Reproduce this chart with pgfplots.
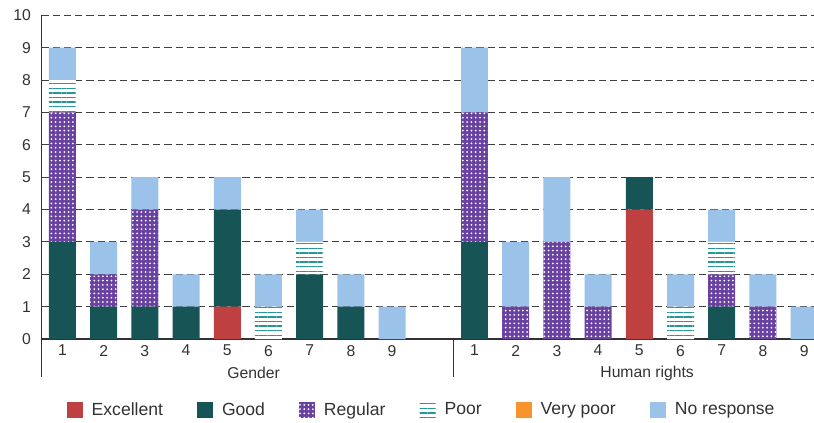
\documentclass[border=0pt]{standalone}
\usepackage{pgfplots}
\pgfplotsset{compat=1.18}
\usepackage{pgfplotstable}
\usepackage{fontspec}
\setmainfont{Liberation Sans}
\usetikzlibrary{patterns.meta}

\definecolor{cExc}{RGB}{190,64,64}
\definecolor{cGood}{RGB}{22,84,86}
\definecolor{cReg}{RGB}{105,65,160}
\definecolor{cPoor}{RGB}{40,150,150}
\definecolor{cVP}{RGB}{247,148,43}
\definecolor{cNR}{RGB}{155,194,232}
\definecolor{cTxt}{RGB}{50,50,50}

\pgfplotstableread{
x exc good reg poor vpoor nr
0 0 3 4 1 0 1
1 0 1 1 0 0 1
2 0 1 3 0 0 1
3 0 1 0 0 0 1
4 1 3 0 0 0 1
5 0 0 0 1 0 1
6 0 2 0 1 0 1
7 0 1 0 0 0 1
8 0 0 0 0 0 1
10 0 3 4 0 0 2
11 0 0 1 0 0 2
12 0 0 3 0 0 2
13 0 0 1 0 0 1
14 4 1 0 0 0 0
15 0 0 0 1 0 1
16 0 1 1 1 0 1
17 0 0 1 0 0 1
18 0 0 0 0 0 1
}\datatable

\pgfplotsset{
  mylegend/.style={legend image code/.code={\path[##1,draw=none] (0pt,-5.6pt) rectangle (11.2pt,5.6pt);}},
}

\begin{document}
\begin{tikzpicture}
\begin{axis}[
  name=ax,
  scale only axis,
  width=540.5pt, height=226.6pt,
  ybar stacked, bar width=0.655, bar shift=0pt,
  xmin=-0.5, xmax=18.24,
  ymin=0, ymax=10,
  ytick={0,...,10},
  xtick={0,1,2,3,4,5,6,7,8,10,11,12,13,14,15,16,17,18},
  xticklabels={1,2,3,4,5,6,7,8,9,1,2,3,4,5,6,7,8,9},
  axis x line*=bottom, axis y line*=left,
  axis line style={draw=cTxt, line width=0.9pt},
  major tick length=0pt,
  ymajorgrids,
  grid style={draw=black!75, line width=0.7pt, dash pattern=on 5pt off 2.8pt},
  /pgf/number format/assume math mode=true,
  tick label style={font=\fontsize{11}{13}\selectfont, text=cTxt},
  yticklabel style={xshift=-4.1pt},
  xticklabel style={yshift=-0.7pt},
  clip mode=individual,
  legend columns=6,
  legend style={draw=none, fill=none, inner sep=0pt, outer sep=0pt,
    at={(0.0322,-0.219)}, anchor=west,
    font=\fontsize{12.3}{14}\selectfont, text=cTxt,
    nodes={inner sep=0pt},
    /tikz/every odd column/.append style={column sep=6.3pt},
    /tikz/every even column/.append style={column sep=23.8pt}},
  legend cell align=left,
]
\addplot[fill=cExc, draw=none, mylegend] table[x=x, y=exc] {\datatable};
\addlegendentry{Excellent}
\addplot[fill=cGood, draw=none, mylegend] table[x=x, y=good] {\datatable};
\addlegendentry{Good}
\addplot[fill=cReg, draw=none, postaction={pattern={Dots[distance=3pt, radius=0.7pt]}, pattern color=white}, mylegend] table[x=x, y=reg] {\datatable};
\addlegendentry{Regular}
\addplot[fill=white, draw=none, postaction={pattern={Lines[angle=0, distance=3.2pt, line width=0.9pt]}, pattern color=cPoor}, mylegend] table[x=x, y=poor] {\datatable};
\addlegendentry{Poor}
\addplot[fill=cVP, draw=none, mylegend] table[x=x, y=vpoor] {\datatable};
\addlegendentry{Very poor}
\addplot[fill=cNR, draw=none, mylegend] table[x=x, y=nr] {\datatable};
\addlegendentry{No response}

\draw[cTxt, line width=0.8pt] (axis cs:-0.5,0) -- ++(0pt,-26.6pt);
\draw[cTxt, line width=0.8pt] (axis cs:9.5,0) -- ++(0pt,-26.6pt);
\node[font=\fontsize{11}{13}\selectfont, text=cTxt] at ([yshift=-23.8pt]axis cs:4.64,0) {Gender};
\node[font=\fontsize{11}{13}\selectfont, text=cTxt] at ([yshift=-23.8pt]axis cs:14.19,0) {Human rights};
\end{axis}
\pgfresetboundingbox
\path ([shift={(-29.3pt,-58.1pt)}]ax.south west) rectangle ([shift={(0pt,10.7pt)}]ax.north east);
\end{tikzpicture}
\end{document}
